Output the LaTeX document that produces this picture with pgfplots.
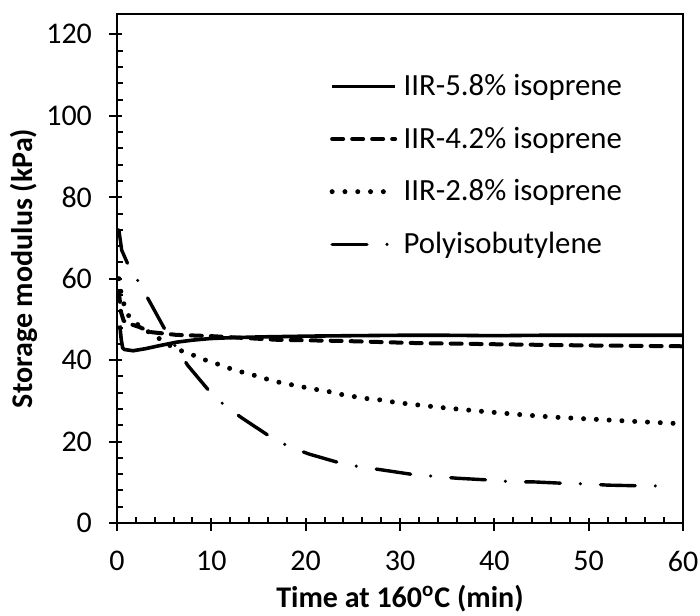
\documentclass[border=0pt]{standalone}
\usepackage{fontspec}
\setmainfont{Carlito}
\usepackage{pgfplots}
\pgfplotsset{compat=1.18}

\begin{document}
\begin{tikzpicture}
\begin{axis}[
    scale only axis,
    width=283pt,
    height=254.5pt,
    xmin=0, xmax=60,
    ymin=0, ymax=125,
    xtick={0,10,...,60},
    ytick={0,20,...,120},
    minor x tick num=4,
    minor y tick num=4,
    tick pos=left,
    axis line style={line width=1pt},
    tick style={line width=1pt, black},
    tick align=inside,
    major tick length=6.5pt,
    minor tick length=3pt,
    every major x tick/.append style={yshift=-3.75pt},
    every major y tick/.append style={xshift=-3.75pt},
    tick label style={font=\fontsize{15}{17}\selectfont},
    /pgf/number format/assume math mode=true,
    xticklabel style={yshift=-10.5pt},
    yticklabel style={xshift=-9pt},
    xlabel={\textbf{Time at 160\textsuperscript{o}C (min)}},
    ylabel={\textbf{Storage modulus (kPa)}},
    label style={font=\fontsize{15}{17}\selectfont},
    xlabel style={at={(axis description cs:0.5,0)}, anchor=base, yshift=-42pt},
    ylabel style={at={(axis description cs:0,0.5)}, anchor=center, rotate=0, yshift=46.5pt},
    legend style={draw=none, fill=none, at={(0.375,0.89)}, anchor=north west,
        font=\fontsize{15.4}{18}\selectfont, row sep=10.2pt, inner sep=0pt,
        nodes={inner xsep=3pt}},
    legend cell align=left,
    legend image code/.code={\draw[#1] (0pt,0pt) -- (31.5pt,0pt);},
]
\addplot[black, line width=1.8pt, line join=round] coordinates {
(0.3,48.5) (0.45,45) (0.6,43) (0.8,42.6) (1.7,42.3) (3,42.8) (4.6,43.6)
(6.3,44.4) (8,44.9) (9.9,45.3) (12,45.5) (15.2,45.7) (20.5,45.9) (25,46.0)
(30,46.1) (35,46.1) (40,46.0) (45,46.1) (50,46.1) (55,46.1) (60,46.1)
};
\addlegendentry{IIR-5.8\% isoprene}
\addplot[black, line width=2pt, line cap=round, dash pattern=on 5.5pt off 4.5pt] coordinates {
(0.2,57) (0.4,52) (0.7,49.7) (1.5,48.8) (2.4,48.1) (3.5,46.9) (6.3,46.2)
(9.9,45.9) (16.9,45.0) (24,44.7) (31.5,44.2) (40,43.9) (50,43.6) (60,43.4)
};
\addlegendentry{IIR-4.2\% isoprene}
\addplot[black, line width=2.5pt, line cap=round, dash pattern=on 0pt off 6.4pt] coordinates {
(0.2,60) (0.4,57) (0.7,54) (1.2,51) (2.3,48.5) (3.5,46.7) (4.6,45.1) (5.6,43.6)
(6.7,42.4) (8.1,41.2) (9.4,40.0) (10.7,39.0) (11.9,38.0) (13.2,37.1) (14.5,36.3)
(15.8,35.4) (17.1,34.6) (18.4,34.0) (19.7,33.4) (21.1,32.8) (22.4,32.3) (23.7,31.6)
(25,31.1) (26.3,30.6) (27.7,30.3) (29,29.8) (30.3,29.4) (34.2,28.4) (38.3,27.5)
(42.3,26.7) (46.3,26.0) (50.4,25.5) (54.4,25.0) (59.7,24.4)
};
\addlegendentry{IIR-2.8\% isoprene}
\addplot[black, line width=1.7pt, line cap=round, dash pattern=on 17.4pt off 10pt on 0pt off 10.1pt] coordinates {
(0.2,72) (0.5,67) (1.2,63.3) (2.4,58.8) (3.5,54.2) (5.3,46.6) (7.5,38.7)
(10,31.8) (11.6,28.5) (13.3,25.7) (16.5,20.8) (18.4,18.6) (20.4,16.9) (24,14.5)
(26.1,13.7) (28.2,13.0) (31.1,12.0) (33.9,11.4) (36,11.0) (39.9,10.5) (41.9,10.1)
(44.1,10.1) (47.8,9.7) (49.9,9.6) (52,9.3) (56,9.1) (58,9.1)
};
\addlegendentry{Polyisobutylene}
\coordinate (ll) at (rel axis cs:0,0);
\coordinate (ur) at (rel axis cs:1,1);
\end{axis}
\pgfresetboundingbox
\path ([shift={(-58.5pt,-46pt)}]ll) rectangle ([shift={(8.5pt,7pt)}]ur);
\end{tikzpicture}
\end{document}
